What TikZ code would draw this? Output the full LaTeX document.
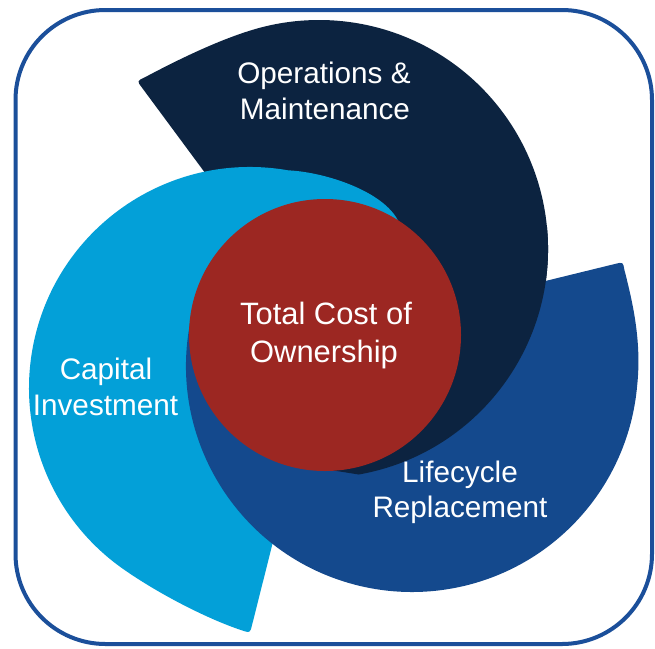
\documentclass[tikz,border=0pt]{standalone}
\usepackage{fontspec}
\usetikzlibrary{calc}
\newfontfamily\labfont{Liberation Sans}
\definecolor{navyc}{HTML}{0C2340}
\definecolor{lightc}{HTML}{03A0D8}
\definecolor{medc}{HTML}{14498D}
\definecolor{redc}{HTML}{9C2722}
\definecolor{borderc}{HTML}{1B4F9A}
\begin{document}
\begin{tikzpicture}[x=1pt,y=-1pt,
  lab/.style={font=\labfont\fontsize{29.7}{36}\selectfont, text=white, inner sep=0pt, anchor=base},
  ctr/.style={lab, font=\labfont\fontsize{30.9}{38}\selectfont}]
\useasboundingbox (0,0) rectangle (655,648);
\fill[white] (0,0) rectangle (655,648);
\coordinate (O) at (325,335);
\coordinate (Cn) at (319,249);
\coordinate (Cl) at (250,388);
\coordinate (Cm) at (412,366);
\def\navypath{(O) -- (318,468) -- ($(Cn)+(80:229)$) arc[start angle=80, end angle=-105, radius=229]
  .. controls (221.1,38.2) and (175.1,61.2) .. (144.3,77.6)
  .. controls (137,81) .. (141.8,87.4) -- cycle}
\def\lightpath{(O) -- (400,225) .. controls (388,192) and (325,172) .. ($(Cl)+(-80:221)$)
  arc[start angle=-80, end angle=-235, radius=221]
  .. controls (160,594.8) and (209.1,619.6) .. (242.4,630.5)
  .. controls (250,633) .. (252,625.2) -- cycle}
\def\medpath{(O) -- ($(Cm)+(195:226)$) arc[start angle=195, end angle=5, radius=226]
  .. controls (642,340) and (632,300) .. (624.4,269.9)
  .. controls (623,262) .. (615.2,263.9) -- cycle}
% shapes
\fill[navyc] \navypath;
\fill[lightc] \lightpath;
\fill[medc] \medpath;
\begin{scope}
  \clip (O) -- (325,700) -- (700,700) -- (700,150) -- cycle;
  \fill[navyc] \navypath;
\end{scope}
\fill[redc] (O) circle[radius=136];
% labels
\node[lab] (ops1) at (324,83) {Operations \&};
\node[lab] (ops2) at (325,119) {Maintenance};
\node[ctr] (tco1) at (326,324) {Total Cost of};
\node[ctr] (tco2) at (324,362) {Ownership};
\node[lab] (cap1) at (106,379) {Capital};
\node[lab] (cap2) at (105.5,415) {Investment};
\node[lab] (lc1) at (460,482) {Lifecycle};
\node[lab] (lc2) at (460,517.5) {Replacement};
% frame
\draw[borderc, line width=4pt, rounded corners=90pt] (15.5,10) rectangle (652,644);
\end{tikzpicture}
\end{document}
